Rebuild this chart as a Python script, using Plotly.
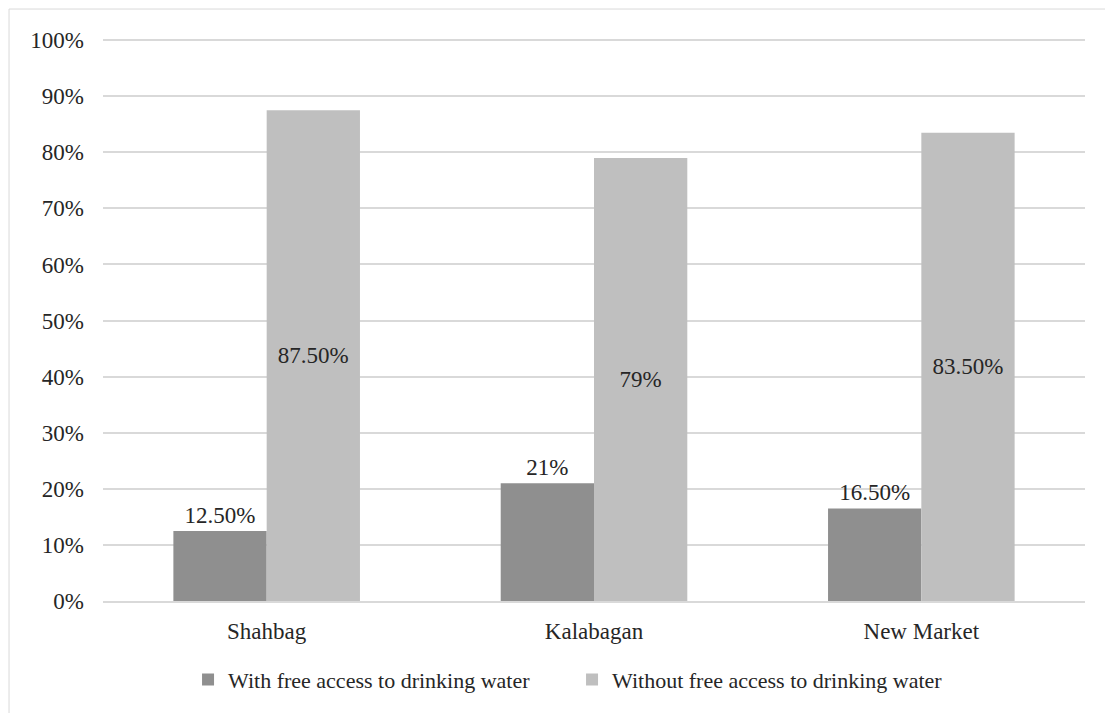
import plotly.graph_objects as go

categories = ["Shahbag", "Kalabagan", "New Market"]
with_access = [12.5, 21, 16.5]
without_access = [87.5, 79, 83.5]
with_labels = ["12.50%", "21%", "16.50%"]
without_labels = ["87.50%", "79%", "83.50%"]
tick_vals = [0, 10, 20, 30, 40, 50, 60, 70, 80, 90, 100]
tick_text = ["0%", "10%", "20%", "30%", "40%", "50%", "60%", "70%", "80%", "90%", "100%"]

FONT = "Liberation Serif"
TXT = "#262626"

fig = go.Figure()
fig.add_trace(go.Bar(
    x=categories, y=with_access, name="With free access to drinking water",
    marker=dict(color="#8f8f8f", line=dict(width=0)),
    text=with_labels, textposition="outside", cliponaxis=False,
    textfont=dict(family=FONT, size=23, color=TXT),
))
fig.add_trace(go.Bar(
    x=categories, y=without_access, name="Without free access to drinking water",
    marker=dict(color="#bfbfbf", line=dict(width=0)),
    text=without_labels, textposition="inside", insidetextanchor="middle",
    textfont=dict(family=FONT, size=23, color=TXT),
))

fig.update_layout(
    width=1105, height=713,
    margin=dict(l=103, r=20, t=39, b=112),
    paper_bgcolor="white", plot_bgcolor="white",
    barmode="group", bargap=0.43, bargroupgap=0,
    font=dict(family=FONT, size=22, color=TXT),
    legend=dict(orientation="h", x=0.0866, xanchor="left", y=-0.14, yanchor="middle",
                bgcolor="rgba(0,0,0,0)",
                font=dict(family=FONT, size=22, color=TXT),
                itemwidth=30, traceorder="normal",
                entrywidth=339, entrywidthmode="pixels"),
    showlegend=True,
    shapes=[dict(type="rect", xref="paper", yref="paper",
                 x0=-0.0957, x1=1.06, y0=-0.3, y1=1.0533,
                 line=dict(color="#d9d9d9", width=1), fillcolor="rgba(0,0,0,0)", layer="below")],
)
fig.update_yaxes(range=[0, 100.2], tickvals=tick_vals, ticktext=tick_text,
                 showgrid=True, gridcolor="#d9d9d9", gridwidth=2,
                 zeroline=False, showline=False, ticks="", ticklabelstandoff=18,
                 tickfont=dict(family=FONT, size=23, color=TXT))
fig.update_xaxes(showgrid=False, showline=True, linecolor="#d9d9d9", linewidth=2,
                 ticks="", ticklabelstandoff=8,
                 tickfont=dict(family=FONT, size=23, color=TXT))

fig.write_html("out.html")
